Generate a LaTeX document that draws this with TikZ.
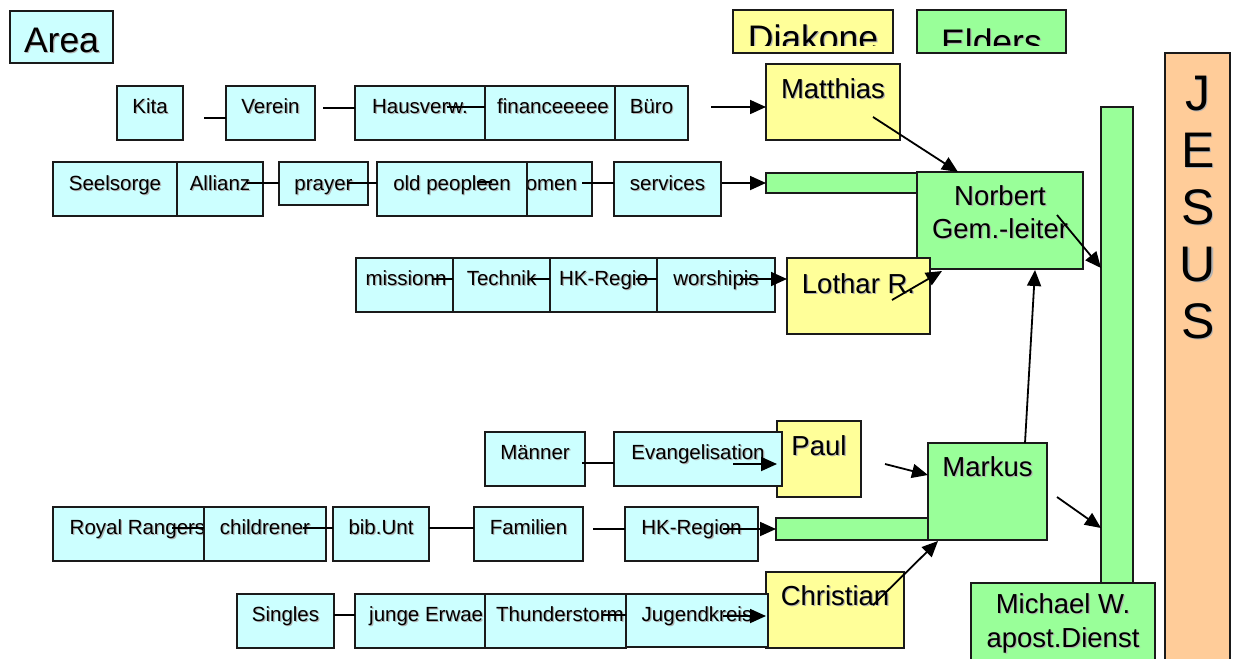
\documentclass[tikz,border=0pt]{standalone}
\usepackage{fontspec}
\setmainfont{Liberation Sans}
\usetikzlibrary{arrows.meta}
\definecolor{cyanbox}{HTML}{CCFFFF}
\definecolor{yelbox}{HTML}{FFFF99}
\definecolor{grnbox}{HTML}{99FF99}
\definecolor{orgbox}{HTML}{FFCC99}
\definecolor{edgec}{HTML}{1A1A1A}
\newcommand\shd[1]{\leavevmode\rlap{\kern1.2pt\raisebox{-1.2pt}{\textcolor{black!30}{#1}}}#1}
\newcommand\fsS{\fontsize{20.5}{24}\selectfont}
\newcommand\fsM{\fontsize{27.5}{32}\selectfont}
\newcommand\fsL{\fontsize{35.5}{40}\selectfont}
\newcommand\fsJ{\fontsize{50}{57}\selectfont}
\newcommand\mkbox[6]{\node[#2, minimum width={#5pt-#3pt}, minimum height={#6pt-#4pt}] (#1) at (#3,#4) {};}
\tikzset{
  bx/.style={draw=edgec, line width=1.6pt, anchor=north west, inner sep=0pt, outer sep=0pt},
  cy/.style={bx, fill=cyanbox},
  yl/.style={bx, fill=yelbox},
  gr/.style={bx, fill=grnbox},
  og/.style={bx, fill=orgbox},
  ts/.style={anchor=base, inner sep=0pt, font=\fsS},
  tm/.style={anchor=base, inner sep=0pt, font=\fsM},
  tl/.style={anchor=base, inner sep=0pt, font=\fsL},
  tj/.style={anchor=base, inner sep=0pt, font=\fsJ},
  conn/.style={line width=1.8pt, draw=black},
  arr/.style={conn, -{Triangle[length=16pt,width=14pt]}},
}
\begin{document}
\begin{tikzpicture}[x=1pt, y=-1pt]
\useasboundingbox (0,0) rectangle (1235,659);
% ---------- header boxes ----------
\mkbox{area}{cy}{10}{11}{113}{63}
\node[tl] (t-area) at (61.5,52) {\shd{Area}};
\mkbox{diak}{yl}{733}{10}{893}{53}
\begin{scope}
  \clip (733,10) rectangle (893,45);
  \node[tl] (t-diak) at (813,50.5) {\shd{Diakone}};
\end{scope}
\mkbox{elders}{gr}{917}{10}{1066}{53}
\begin{scope}
  \clip (917,10) rectangle (1066,45);
  \node[tl] (t-elders) at (991.5,54) {\shd{Elders}};
\end{scope}
\mkbox{jesus}{og}{1165}{53}{1230}{664}
\node[tj] (t-j1) at (1198,110) {\shd{J}};
\node[tj] (t-j2) at (1198,167) {\shd{E}};
\node[tj] (t-j3) at (1198,224) {\shd{S}};
\node[tj] (t-j4) at (1198,281) {\shd{U}};
\node[tj] (t-j5) at (1198,338) {\shd{S}};
% ---------- leaders ----------
\mkbox{matthias}{yl}{766}{64}{900}{140}
\node[tm] (t-matthias) at (833,98) {\shd{Matthias}};
\mkbox{bar1}{gr}{766}{173}{918}{193}
\mkbox{norbert}{gr}{917}{172}{1083}{269}
\node[tm] (t-norbert1) at (1000,205) {\shd{Norbert}};
\node[tm] (t-norbert2) at (1000,238) {\shd{Gem.-leiter}};
\mkbox{tallbar}{gr}{1101}{107}{1133}{583}
\mkbox{lothar}{yl}{787}{258}{930}{334}
\node[tm] (t-lothar) at (858.5,293) {\shd{Lothar R.}};
\mkbox{paul}{yl}{777}{421}{861}{497}
\node[tm] (t-paul) at (819,455) {\shd{Paul}};
\mkbox{bar2}{gr}{776}{518}{928}{540}
\mkbox{markus}{gr}{928}{443}{1047}{540}
\node[tm] (t-markus) at (987.5,476) {\shd{Markus}};
\mkbox{christian}{yl}{766}{572}{904}{648}
\node[tm] (t-christian) at (835,605) {\shd{Christian}};
\mkbox{michael}{gr}{971}{583}{1155}{664}
\node[tm] (t-michael1) at (1063,613) {\shd{Michael W.}};
\node[tm] (t-michael2) at (1063,647) {\shd{apost.Dienst}};
% ---------- row 1 ----------
\mkbox{kita}{cy}{117}{86}{183}{140}
\node[ts] (t-kita) at (150,113) {\shd{Kita}};
\mkbox{verein}{cy}{226}{86}{315}{140}
\node[ts] (t-verein) at (270.5,113) {\shd{Verein}};
\mkbox{haus}{cy}{355}{86}{485}{140}
\node[ts] (t-haus) at (420,113) {\shd{Hausverw.}};
\mkbox{finance}{cy}{485}{86}{615}{140}
\node[ts] (t-finance) at (553,113) {\shd{financeeeee}};
\mkbox{buero}{cy}{615}{86}{688}{140}
\node[ts] (t-buero) at (651.5,113) {\shd{Büro}};
% ---------- row 2 ----------
\mkbox{seelsorge}{cy}{53}{162}{177}{216}
\node[ts] (t-seelsorge) at (115,190) {\shd{Seelsorge}};
\mkbox{allianz}{cy}{177}{162}{263}{216}
\node[ts] (t-allianz) at (220,190) {\shd{Allianz}};
\mkbox{prayer}{cy}{279}{162}{368}{205}
\node[ts] (t-prayer) at (323.5,190) {\shd{prayer}};
\mkbox{women}{cy}{495}{162}{592}{216}
\node[ts] (t-women) at (544,190) {\shd{women}};
\mkbox{old}{cy}{377}{162}{527}{216}
\node[ts] (t-old) at (452,190) {\shd{old peopleen}};
\mkbox{services}{cy}{614}{162}{721}{216}
\node[ts] (t-services) at (667.5,190) {\shd{services}};
% ---------- row 3 ----------
\mkbox{mission}{cy}{356}{258}{453}{312}
\node[ts] (t-mission) at (406,285.5) {\shd{missionn}};
\mkbox{technik}{cy}{453}{258}{550}{312}
\node[ts] (t-technik) at (501.5,285.5) {\shd{Technik}};
\mkbox{hkregio}{cy}{550}{258}{657}{312}
\node[ts] (t-hkregio) at (603.5,285.5) {\shd{HK-Regio}};
\mkbox{worship}{cy}{657}{258}{775}{312}
\node[ts] (t-worship) at (716,285.5) {\shd{worshipis}};
% ---------- row 4 ----------
\mkbox{maenner}{cy}{485}{432}{585}{486}
\node[ts] (t-maenner) at (535,459.5) {\shd{Männer}};
\mkbox{evang}{cy}{614}{432}{782}{486}
\node[ts] (t-evang) at (698,459.5) {\shd{Evangelisation}};
% ---------- row 5 ----------
\mkbox{royal}{cy}{53}{507}{222}{561}
\node[ts] (t-royal) at (137.5,534.5) {\shd{Royal Rangers}};
\mkbox{children}{cy}{204}{507}{326}{561}
\node[ts] (t-children) at (265,534.5) {\shd{childrener}};
\mkbox{bib}{cy}{333}{507}{429}{561}
\node[ts] (t-bib) at (381,534.5) {\shd{bib.Unt}};
\mkbox{familien}{cy}{474}{507}{583}{561}
\node[ts] (t-familien) at (528.5,534.5) {\shd{Familien}};
\mkbox{hkregion}{cy}{625}{507}{758}{561}
\node[ts] (t-hkregion) at (691.5,534.5) {\shd{HK-Region}};
% ---------- row 6 ----------
\mkbox{singles}{cy}{237}{594}{334}{648}
\node[ts] (t-singles) at (285.5,621.5) {\shd{Singles}};
\mkbox{junge}{cy}{355}{594}{485}{648}
\node[ts, anchor=base west] (t-junge) at (369,621.5) {\shd{junge Erwae}};
\mkbox{thunder}{cy}{485}{594}{626}{648}
\node[ts] (t-thunder) at (560,621.5) {\shd{Thunderstorm}};
\mkbox{jugend}{cy}{626}{594}{768}{647}
\node[ts] (t-jugend) at (697,621.5) {\shd{Jugendkreis}};
% ---------- plain connectors ----------
\coordinate (c1) at (204,118);  \draw[conn] (c1) -- (c1 -| verein.west);
\coordinate (c2) at (323,108);  \draw[conn] (c2) -- (c2 -| haus.west);
\coordinate (c3) at (447,107);  \draw[conn] (c3) -- (c3 -| finance.west);
\coordinate (c4) at (247,183);  \draw[conn] (c4) -- (c4 -| prayer.west);
\coordinate (c5) at (347,183);  \draw[conn] (c5) -- (c5 -| old.west);
\coordinate (c6a) at (477,182); \coordinate (c6b) at (492,182); \draw[conn] (c6a) -- (c6b);
\coordinate (c7) at (582,183);  \draw[conn] (c7) -- (c7 -| services.west);
\coordinate (c8) at (432,279);  \draw[conn] (c8) -- (c8 -| technik.west);
\coordinate (c9) at (528,279);  \draw[conn] (c9) -- (c9 -| hkregio.west);
\coordinate (c10) at (636,279); \draw[conn] (c10) -- (c10 -| worship.west);
\coordinate (c11) at (582,463); \draw[conn] (c11) -- (c11 -| evang.west);
\coordinate (c12) at (172,528); \draw[conn] (c12) -- (c12 -| children.west);
\coordinate (c13) at (303,528); \draw[conn] (c13) -- (c13 -| bib.west);
\coordinate (c14) at (429,528); \draw[conn] (c14) -- (c14 -| familien.west);
\coordinate (c15) at (593,529); \draw[conn] (c15) -- (c15 -| hkregion.west);
\coordinate (c16) at (334,615); \draw[conn] (c16) -- (c16 -| junge.west);
\coordinate (c17) at (602,615); \draw[conn] (c17) -- (c17 -| jugend.west);
% ---------- arrows ----------
\coordinate (a1) at (711,107);  \draw[arr] (a1) -- (a1 -| matthias.west);
\coordinate (a2) at (722,183);  \draw[arr] (a2) -- (a2 -| bar1.west);
\coordinate (a3) at (740,279);  \draw[arr] (a3) -- (a3 -| lothar.west);
\coordinate (a4) at (733,464);  \draw[arr] (a4) -- (a4 -| paul.west);
\coordinate (a5) at (723,529);  \draw[arr] (a5) -- (a5 -| bar2.west);
\coordinate (a6) at (723,616);  \draw[arr] (a6) -- (a6 -| christian.west);
\coordinate (d1s) at (873,117); \coordinate (d1e) at (958,172); \draw[arr] (d1s) -- (d1e);
\coordinate (d2s) at (892,300); \coordinate (d2e) at (942,271); \draw[arr] (d2s) -- (d2e);
\coordinate (d3s) at (1057,215); \coordinate (d3e) at (1101,268); \draw[arr] (d3s) -- (d3e);
\coordinate (d4s) at (1025,443); \coordinate (d4e) at (1035,270); \draw[arr] (d4s) -- (d4e);
\coordinate (d5s) at (885,464); \coordinate (d5e) at (928,475); \draw[arr] (d5s) -- (d5e);
\coordinate (d6s) at (1057,497); \coordinate (d6e) at (1101,528); \draw[arr] (d6s) -- (d6e);
\coordinate (d7s) at (873,605); \coordinate (d7e) at (938,541); \draw[arr] (d7s) -- (d7e);
\end{tikzpicture}
\end{document}
